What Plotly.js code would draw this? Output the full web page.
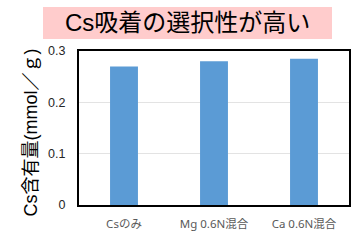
<!DOCTYPE html>
<html><head><meta charset="utf-8">
<script src="https://cdn.plot.ly/plotly-3.0.1.min.js"></script>
<style>html,body{margin:0;padding:0;background:#fff}</style>
</head><body>
<div id="chart" style="width:353px;height:242px"></div>
<script>
const categories = ["Csのみ", "Mg 0.6N混合", "Ca 0.6N混合"];
const csContent = [0.27, 0.28, 0.285];
const yTicks = [0, 0.1, 0.2, 0.3];
const yTickLabels = ["0", "0.1", "0.2", "0.3"];
const chartTitle = "Cs吸着の選択性が高い";
const yTitle = "Cs含有量(mmol／ｇ)";

const trace = {
  type: "bar",
  x: categories,
  y: csContent,
  marker: {color: "#5b9bd5"},
  width: 0.31,
  hoverinfo: "none"
};

const layout = {
  width: 353, height: 242,
  margin: {l: 79, r: 4, t: 51, b: 37},
  paper_bgcolor: "#fff", plot_bgcolor: "#fff",
  showlegend: false,
  font: {family: "Liberation Sans, Arial, Noto Sans CJK JP, sans-serif"},
  xaxis: {
    showline: true, mirror: true, linecolor: "#000", linewidth: 2,
    tickfont: {family: "Noto Sans, Noto Sans CJK JP, sans-serif", size: 11.5, color: "#595959"},
    ticks: "", ticklabelstandoff: 7, fixedrange: true
  },
  yaxis: {
    range: [0, 0.3], tickvals: yTicks, ticktext: yTickLabels,
    showline: true, mirror: true, linecolor: "#000", linewidth: 2,
    showgrid: true, gridcolor: "#e3e3e3", gridwidth: 1,
    zeroline: false,
    tickfont: {family: "Liberation Sans, Arial, sans-serif", size: 12.5, color: "#262626"},
    ticks: "", ticklabelstandoff: 9, fixedrange: true
  },
  shapes: [{
    type: "rect", xref: "paper", yref: "paper", layer: "below",
    x0: -0.1333, x1: 0.937, y0: 1.078, y1: 1.286,
    fillcolor: "#ffcccc", line: {width: 0}
  }],
  annotations: [
    {
      text: chartTitle, xref: "paper", yref: "paper", x: 0.402, y: 1.182,
      xanchor: "center", yanchor: "middle", showarrow: false,
      font: {family: "Liberation Sans, Noto Sans CJK JP, sans-serif", size: 24, color: "#000"}
    },
    {
      text: yTitle, xref: "paper", yref: "paper", x: -0.178, y: 0.47,
      xanchor: "center", yanchor: "middle", showarrow: false, textangle: -90,
      font: {family: "Liberation Sans, Noto Sans CJK JP, sans-serif", size: 18, color: "#000"}
    }
  ]
};

Plotly.newPlot("chart", [trace], layout, {displayModeBar: false, staticPlot: true});
</script>
</body></html>
